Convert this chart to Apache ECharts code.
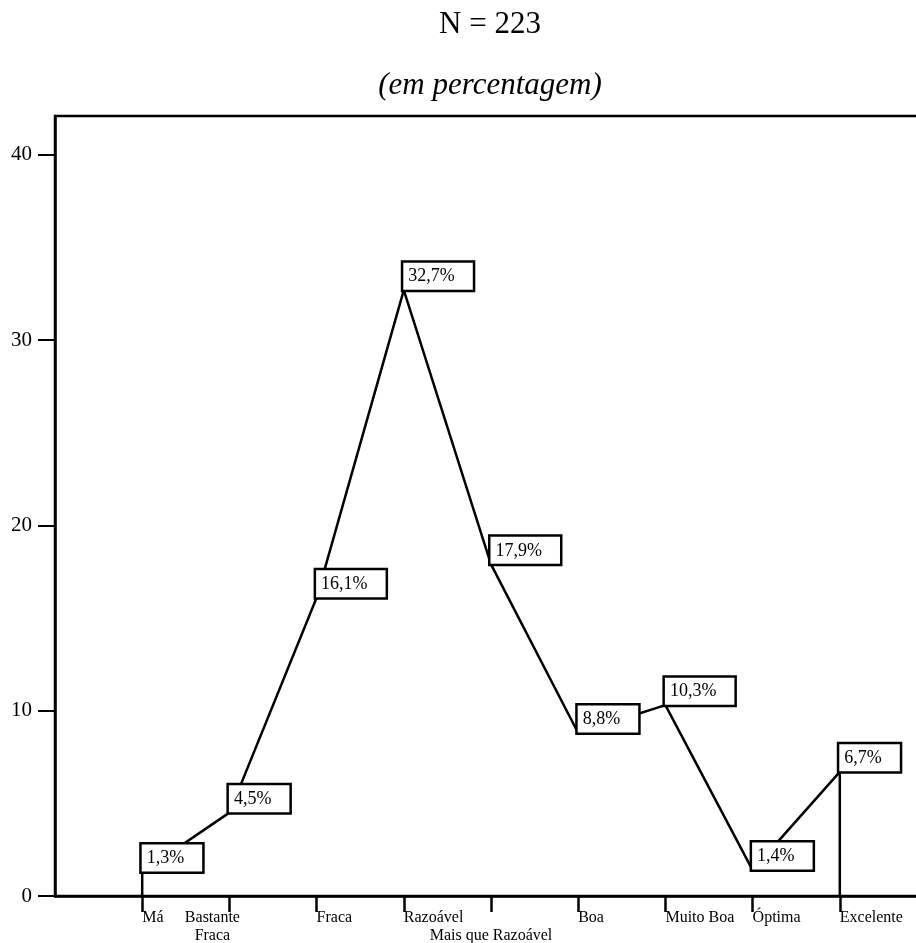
<!DOCTYPE html>
<html><head><meta charset="utf-8">
<script src="https://cdn.jsdelivr.net/npm/echarts@6/dist/echarts.min.js"></script>
<style>html,body{margin:0;padding:0;background:#fff}#c{width:916px;height:943px}</style>
</head><body><div id="c"></div>
<script>
// ---- data ----
const categories = ['', 'Má', 'Bastante\nFraca', 'Fraca', 'Razoável', '\nMais que Razoável', 'Boa', 'Muito Boa', 'Óptima', 'Excelente', ' '];
const values = [1.3, 4.5, 16.1, 32.7, 17.9, 8.8, 10.3, 1.4, 6.7]; // for categories 1..9
const yTicks = [0, 10, 20, 30, 40];
const titleText = 'N = 223';
const subtitleText = '(em percentagem)';

// ---- build ----
const serif = '"Liberation Serif", "Times New Roman", serif';
const pts = [{ value: [1, 0] }];
values.forEach((v, i) => pts.push({ value: [i + 1, v], label: { show: true } }));
pts.push({ value: [values.length, 0] });

const xData = categories.map((c, i) => {
  if (i === 2) return { value: c, textStyle: { align: 'center', padding: [0, 34, 0, 0] } };
  if (i === 5) return { value: c, textStyle: { align: 'center' } };
  return c;
});

const chart = echarts.init(document.getElementById('c'), null, { renderer: 'canvas' });
chart.setOption({
  animation: false,
  backgroundColor: '#fff',
  graphic: [
    { type: 'text', x: 490, y: 25, style: { text: titleText, font: '31px ' + serif, fill: '#000', align: 'center', verticalAlign: 'middle' } },
    { type: 'text', x: 490, y: 86, style: { text: subtitleText, font: 'italic 31px ' + serif, fill: '#000', align: 'center', verticalAlign: 'middle' } }
  ],
  grid: { left: 55, top: 116, width: 872, bottom: 47, outerBoundsMode: 'none', containLabel: false, show: true, borderWidth: 2.5, borderColor: '#000', backgroundColor: 'transparent' },
  xAxis: {
    type: 'category', boundaryGap: false, data: xData,
    axisLine: { show: true, lineStyle: { color: '#000', width: 2.5 } },
    axisTick: { show: true, interval: (idx) => idx >= 1 && idx <= 9, length: 16, lineStyle: { color: '#000', width: 2.5 } },
    axisLabel: { interval: 0, align: 'left', fontSize: 16, fontFamily: serif, color: '#000', margin: 13, lineHeight: 18 },
    splitLine: { show: false }
  },
  yAxis: {
    type: 'value', min: 0, max: 42.1, interval: 10,
    axisLine: { show: true, lineStyle: { color: '#000', width: 2.5 } },
    axisTick: { show: true, customValues: yTicks, length: 17, lineStyle: { color: '#000', width: 2 } },
    axisLabel: { customValues: yTicks, fontSize: 21, fontFamily: serif, color: '#000', margin: 23 },
    splitLine: { show: false }
  },
  series: [{
    type: 'line', data: pts, symbol: 'circle', symbolSize: 1, showSymbol: true,
    itemStyle: { color: '#000' },
    lineStyle: { color: '#000', width: 2.5 },
    emphasis: { disabled: true },
    label: {
      show: false, position: [0, 0], align: 'left', verticalAlign: 'bottom',
      fontSize: 18, fontFamily: serif, color: '#000', backgroundColor: '#fff',
      borderColor: '#000', borderWidth: 2.5, padding: [5, 18, 4, 5],
      formatter: (p) => p.value[1].toFixed(1).replace('.', ',') + '%'
    }
  }]
});
</script></body></html>
